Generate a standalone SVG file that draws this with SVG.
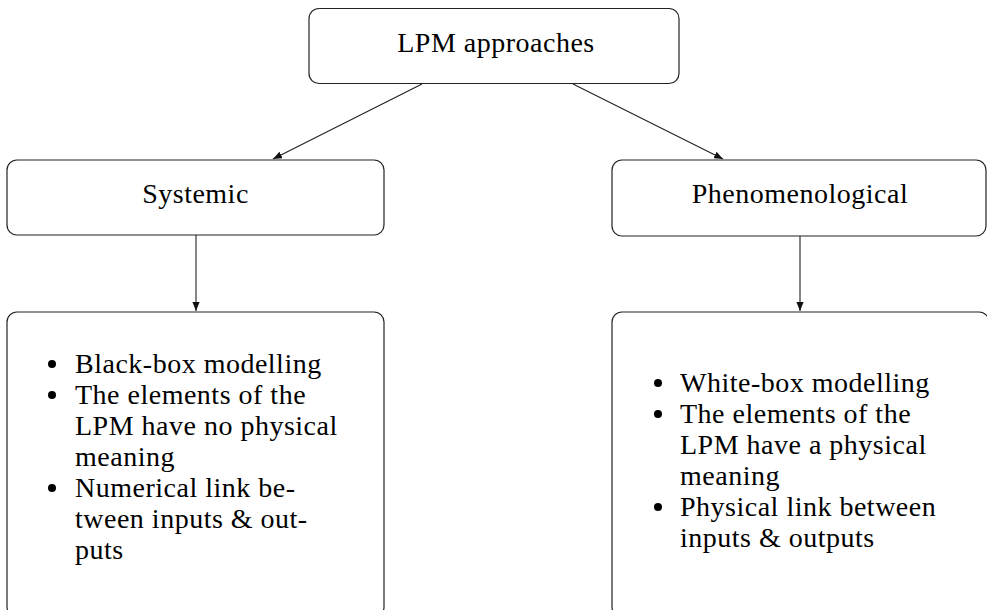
<svg xmlns="http://www.w3.org/2000/svg" width="987" height="610" viewBox="0 0 987 610">
<style>
.box{fill:#fff;stroke:#222;stroke-width:1.2}
.t{font-family:"Liberation Serif","Times New Roman",serif;font-size:28px;letter-spacing:0.5px;fill:#000}
.c{text-anchor:middle}
.edge{stroke:#222;stroke-width:1.1;fill:none;marker-end:url(#ah)}
.b{fill:#000}
</style>
<defs>
<marker id="ah" viewBox="0 0 10 8" refX="10" refY="4" markerWidth="9" markerHeight="7.2" markerUnits="userSpaceOnUse" orient="auto">
<path d="M0,0 L10,4 L0,8 Z" fill="#111"/>
</marker>
</defs>
<rect width="987" height="610" fill="#fff"/>
<g id="connectors">
<line class="edge" x1="422" y1="84" x2="273" y2="159"/>
<line class="edge" x1="573" y1="84" x2="723" y2="159"/>
<line class="edge" x1="196" y1="235" x2="196" y2="311"/>
<line class="edge" x1="800" y1="236" x2="800" y2="311"/>
</g>
<g id="lpm-approaches">
<rect class="box" x="309" y="8.5" width="370" height="75" rx="10"/>
<text class="t c" x="496" y="52">LPM approaches</text>
</g>
<g id="systemic">
<rect class="box" x="7" y="160" width="377" height="75" rx="10"/>
<text class="t c" x="195.5" y="203">Systemic</text>
</g>
<g id="phenomenological">
<rect class="box" x="612" y="160" width="374" height="76" rx="10"/>
<text class="t c" x="800" y="203">Phenomenological</text>
</g>
<g id="systemic-details">
<rect class="box" x="7" y="312" width="377" height="305" rx="10"/>
<circle class="b" cx="52" cy="364" r="4"/>
<circle class="b" cx="52" cy="395" r="4"/>
<circle class="b" cx="52" cy="488" r="4"/>
<text class="t" x="75" y="373">Black-box modelling</text>
<text class="t" x="75" y="404">The elements of the</text>
<text class="t" x="75" y="435">LPM have no physical</text>
<text class="t" x="75" y="466">meaning</text>
<text class="t" x="75" y="497">Numerical link be-</text>
<text class="t" x="75" y="528">tween inputs &amp; out-</text>
<text class="t" x="75" y="559">puts</text>
</g>
<g id="phenomenological-details">
<rect class="box" x="612" y="312" width="377" height="305" rx="10"/>
<circle class="b" cx="658" cy="383" r="4"/>
<circle class="b" cx="658" cy="414" r="4"/>
<circle class="b" cx="658" cy="507" r="4"/>
<text class="t" x="680" y="392">White-box modelling</text>
<text class="t" x="680" y="423">The elements of the</text>
<text class="t" x="680" y="454">LPM have a physical</text>
<text class="t" x="680" y="485">meaning</text>
<text class="t" x="680" y="516">Physical link between</text>
<text class="t" x="680" y="547">inputs &amp; outputs</text>
</g>
</svg>
